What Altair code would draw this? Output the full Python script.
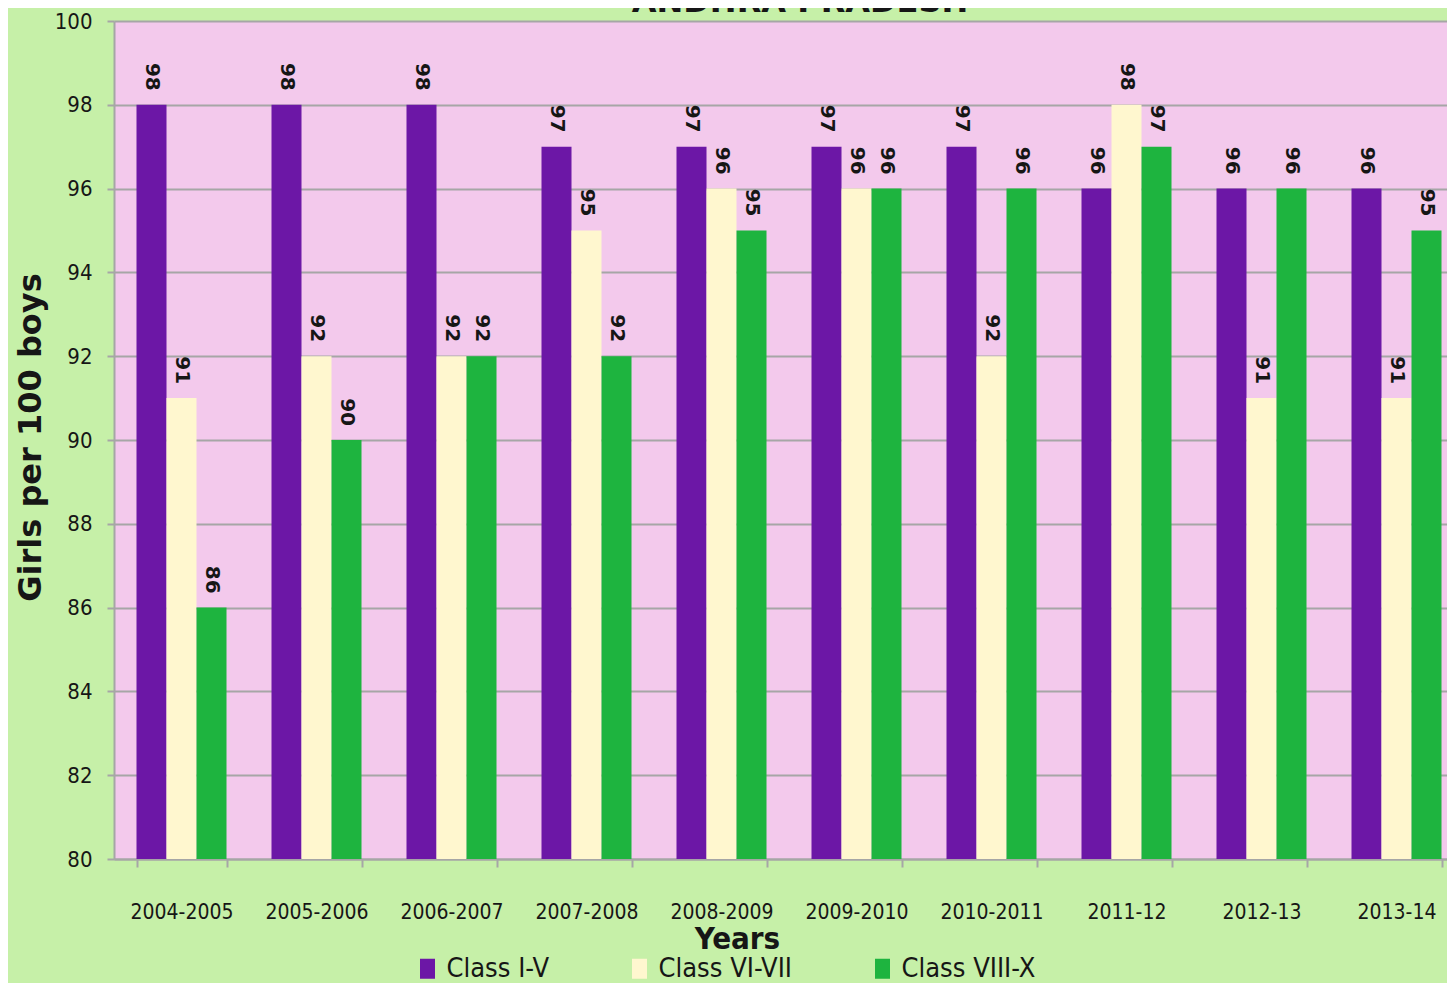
import altair as alt
import pandas as pd

title_text = ["ANDHRA PRADESH"]
years = ["2004-2005", "2005-2006", "2006-2007", "2007-2008", "2008-2009",
         "2009-2010", "2010-2011", "2011-12", "2012-13", "2013-14"]
classes = ["Class I-V", "Class VI-VII", "Class VIII-X"]
class_1_5 = [98, 98, 98, 97, 97, 97, 97, 96, 96, 96]
class_6_7 = [91, 92, 92, 95, 96, 96, 92, 98, 91, 91]
class_8_10 = [86, 90, 92, 92, 95, 96, 96, 97, 96, 95]
colors = ["#6C17A6", "#FFF7CF", "#1EB43F"]
y_ticks = list(range(80, 101, 2))

rows = []
for series, vals in zip(classes, [class_1_5, class_6_7, class_8_10]):
    for yr, v in zip(years, vals):
        rows.append({"Year": yr, "Class": series, "Value": v})
df = pd.DataFrame(rows)

GRAY = "#A6A6A6"
TXT = "#161616"
NARROW = "'DejaVu Sans Condensed', 'Liberation Sans Narrow', 'Roboto Condensed', sans-serif"

x_enc = alt.X(
    "Year:N", sort=years,
    scale=alt.Scale(range=[0, 1350], paddingInner=1 / 3, paddingOuter=1 / 6),
    axis=alt.Axis(
        labelAngle=0, labelFont=NARROW, labelFontSize=21, labelColor=TXT,
        labelPadding=34, tickSize=8, tickBand="extent", tickColor=GRAY,
        tickWidth=2, domainColor=GRAY, domainWidth=2, grid=False,
        title="Years", titleFont=NARROW, titleFontSize=31, titleFontWeight="bold",
        titleColor=TXT, titleX=623, titleY=89, titleBaseline="alphabetic",
        titleAlign="center",
    ),
)
xoff_enc = alt.XOffset("Class:N", sort=classes, scale=alt.Scale(paddingInner=0, paddingOuter=0))
y_enc = alt.Y(
    "Value:Q",
    scale=alt.Scale(domain=[80, 100], zero=False, nice=False),
    axis=alt.Axis(
        values=y_ticks, labelFont=NARROW, labelFontSize=22, labelColor=TXT,
        labelPadding=15, tickSize=7, tickColor=GRAY, tickWidth=2,
        domainColor=GRAY, domainWidth=2, gridColor=GRAY, gridWidth=2,
        title="Girls per 100 boys", titleFont="DejaVu Sans", titleFontSize=32,
        titleFontWeight="bold", titleColor=TXT, titleX=-84, titleY=416,
        titleAngle=270, titleBaseline="middle", titleAlign="center",
    ),
)

bars = alt.Chart(df).mark_bar().encode(
    x=x_enc,
    xOffset=xoff_enc,
    y=y_enc,
    y2=alt.datum(80),
    color=alt.Color(
        "Class:N", sort=classes,
        scale=alt.Scale(domain=classes, range=colors),
        legend=alt.Legend(
            orient="none", legendX=300, legendY=934, direction="horizontal",
            title=None, symbolType="M-0.75,-1H0.75V1H-0.75Z", symbolSize=400,
            symbolStrokeWidth=0, symbolOpacity=1, labelFont=NARROW,
            labelFontSize=27, labelOffset=5.5, columnPadding=76, padding=0,
            labelColor=TXT,
        ),
    ),
)

labels = alt.Chart(df).mark_text(
    angle=90, align="right", baseline="middle", dx=-14,
    font="DejaVu Sans", fontSize=20, fontWeight="bold", color=TXT,
).encode(
    x=alt.X("Year:N", sort=years),
    xOffset=alt.XOffset("Class:N", sort=classes),
    y=alt.Y("Value:Q"),
    text=alt.Text("Value:Q"),
)

title = alt.Chart(pd.DataFrame({"t": title_text})).mark_text(
    font="DejaVu Sans", fontSize=32, fontWeight="bold", color=TXT,
    align="center", baseline="alphabetic",
).encode(
    text="t:N",
    x=alt.value(686),
    y=alt.value(-9),
)

chart = alt.layer(bars, labels, title).properties(
    width=1333,
    height=838,
    autosize=alt.AutoSizeParams(type="none"),
    padding={"left": 106, "top": 13, "right": 0, "bottom": 124},
).configure(
    background="#C6F0A8",
).configure_view(
    fill="#F3C9EC", stroke="transparent",
)

chart.save("out.html", embed_options={"renderer": "svg", "actions": False})
